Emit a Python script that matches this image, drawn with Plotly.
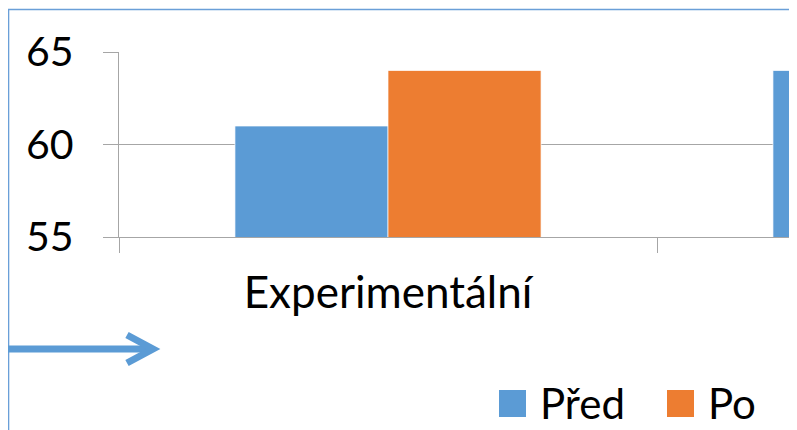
import plotly.graph_objects as go

categories = ["Experimentální", "Kontrolní"]
series_names = ["Před", "Po"]
pred_values = [61, 64]
po_values = [64, None]
y_ticks = [55, 60, 65]

BLUE = "#5B9BD5"
ORANGE = "#ED7D31"
GRID = "#A6A6A6"
FONT = "Lato"

# the page adds an 8px body margin; work in page pixels and shift
OFF = 8
W_FIG, H_FIG = 797, 430
PLOT_LEFT, PLOT_TOP, PLOT_BOTTOM = 119, 52, 237  # page pixels
CAT_PX = 538.0

L = PLOT_LEFT - OFF
T = PLOT_TOP - OFF
B = H_FIG - (PLOT_BOTTOM - OFF)
R = 0
PW = W_FIG - L - R
PH = H_FIG - T - B


def px_x(p):
    return (p - OFF - L) / PW


def px_y(p):
    return (PLOT_BOTTOM - p) / PH


fig = go.Figure()
fig.add_trace(go.Bar(x=categories, y=pred_values, name=series_names[0],
                     marker=dict(color=BLUE, line=dict(color="white", width=0.7))))
fig.add_trace(go.Bar(x=categories, y=po_values, name=series_names[1],
                     marker=dict(color=ORANGE, line=dict(color="white", width=0.7))))

shapes = []
# chart border
shapes.append(dict(type="rect", xref="paper", yref="paper",
                   x0=px_x(8.5), x1=px_x(900), y0=px_y(9.5), y1=px_y(520),
                   line=dict(color="#6A9FD8", width=1.6), layer="below"))
# arrow connector
shapes.append(dict(type="line", xref="paper", yref="paper",
                   x0=px_x(-3), x1=px_x(150), y0=px_y(349), y1=px_y(349),
                   line=dict(color=BLUE, width=7)))
path = "M {},{} L {},{} L {},{}".format(px_x(127), px_y(335), px_x(153), px_y(349),
                                        px_x(127), px_y(363))
shapes.append(dict(type="path", xref="paper", yref="paper", path=path,
                   line=dict(color=BLUE, width=7)))

# legend (custom, large swatches)
legend_items = [(series_names[0], BLUE, 499), (series_names[1], ORANGE, 667)]
annotations = []
for name, col, x0 in legend_items:
    shapes.append(dict(type="rect", xref="paper", yref="paper",
                       x0=px_x(x0), x1=px_x(x0 + 27), y0=px_y(417), y1=px_y(390),
                       fillcolor=col, line=dict(width=0)))
    annotations.append(dict(text=name, xref="paper", yref="paper",
                            x=px_x(x0 + 39), y=px_y(403), xanchor="left", yanchor="middle",
                            showarrow=False, font=dict(family=FONT, size=42, color="black")))

fig.update_layout(
    width=W_FIG, height=H_FIG,
    margin=dict(l=L, r=R, t=T, b=B),
    paper_bgcolor="white", plot_bgcolor="white",
    barmode="group", bargap=0.431, bargroupgap=0,
    showlegend=False,
    shapes=shapes, annotations=annotations,
    font=dict(family=FONT, size=40, color="black"),
)
fig.update_xaxes(type="category", categoryorder="array", categoryarray=categories,
                 range=[-0.5, -0.5 + PW / CAT_PX],
                 tickson="boundaries", ticks="outside", ticklen=15, tickcolor=GRID, tickwidth=1.3,
                 showline=True, linecolor=GRID, linewidth=1.3, showgrid=False,
                 tickfont=dict(family=FONT, size=44, color="black"), ticklabelstandoff=17)
fig.update_yaxes(range=[55, 65], tickvals=y_ticks, ticks="outside", ticklen=15,
                 tickcolor=GRID, tickwidth=1.3, showline=True, linecolor=GRID, linewidth=1.3,
                 showgrid=True, gridcolor=GRID, gridwidth=1.3, zeroline=False,
                 tickfont=dict(family=FONT, size=41, color="black"), ticklabelstandoff=21)

fig.write_html("out.html")
